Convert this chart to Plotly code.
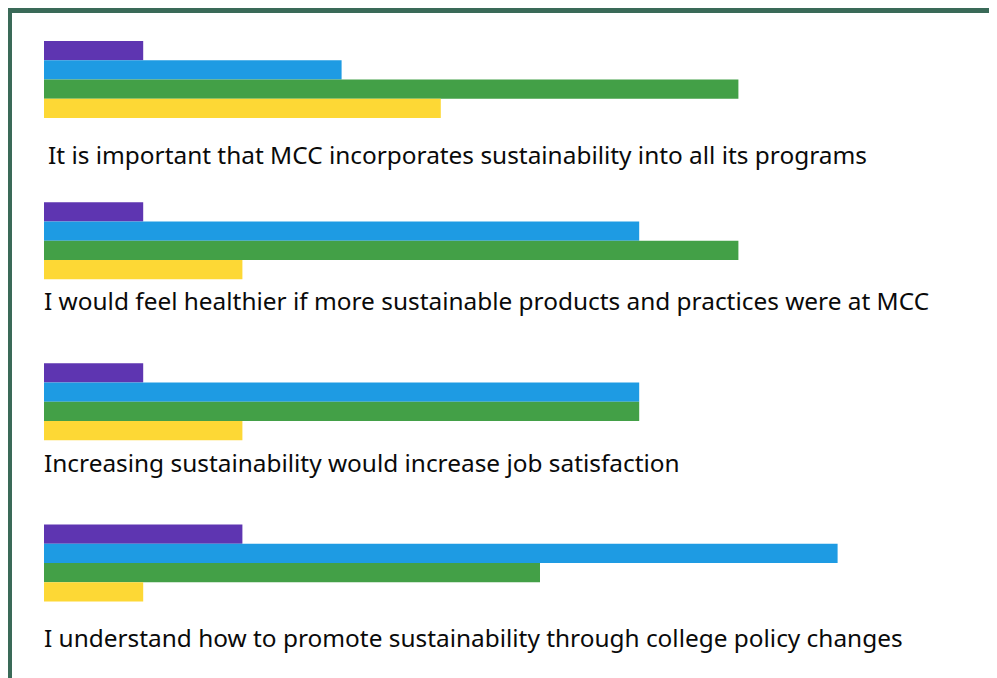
import plotly.graph_objects as go

statements = [
    "It is important that MCC incorporates sustainability into all its programs",
    "I would feel healthier if more sustainable products and practices were at MCC",
    "Increasing sustainability would increase job satisfaction",
    "I understand how to promote sustainability through college policy changes",
]
purple_vals = [1, 1, 1, 2]
blue_vals = [3, 6, 6, 8]
green_vals = [7, 7, 6, 5]
yellow_vals = [4, 2, 2, 1]

colors = ["#5e35b1", "#1e9be3", "#43a047", "#fdd835"]
series = [purple_vals, blue_vals, green_vals, yellow_vals]

pos = list(range(len(statements)))

W, H = 989, 670  # page body adds an 8px margin

fig = go.Figure()
for vals, col in zip(series, colors):
    fig.add_trace(go.Bar(
        x=vals, y=pos, orientation="h",
        marker=dict(color=col, line=dict(width=0)),
        hoverinfo="x", showlegend=False,
    ))

# label placement below each group (pixel offsets)
label_shift = [-75, -60, -61, -74]
label_xshift = [2, -2, -2, -2]
for i, txt in enumerate(statements):
    fig.add_annotation(
        x=0, y=i, xref="x", yref="y", text=txt, showarrow=False,
        xanchor="left", yanchor="middle", yshift=label_shift[i], xshift=label_xshift[i],
        font=dict(family="Noto Sans", size=24.4, color="#0a0a0a"),
    )

# frame lines on the top and left
fig.add_shape(type="line", xref="paper", yref="paper", x0=-0.01, x1=1.01, y0=1-2.5/H, y1=1-2.5/H,
              line=dict(color="#3a6a58", width=5))
fig.add_shape(type="line", xref="paper", yref="paper", x0=1/W, x1=1/W, y0=1.01, y1=-0.01,
              line=dict(color="#3a6a58", width=6))

fig.update_layout(
    width=W, height=H,
    margin=dict(l=0, r=0, t=0, b=0),
    paper_bgcolor="white", plot_bgcolor="white",
    barmode="group", bargap=0.522, bargroupgap=0,
    xaxis=dict(range=[-36/99.2, (W-36)/99.2], visible=False, fixedrange=True),
    yaxis=dict(range=[(H-71.5)/161.17, -71.5/161.17], visible=False, fixedrange=True),
)

fig.write_html("out.html")
